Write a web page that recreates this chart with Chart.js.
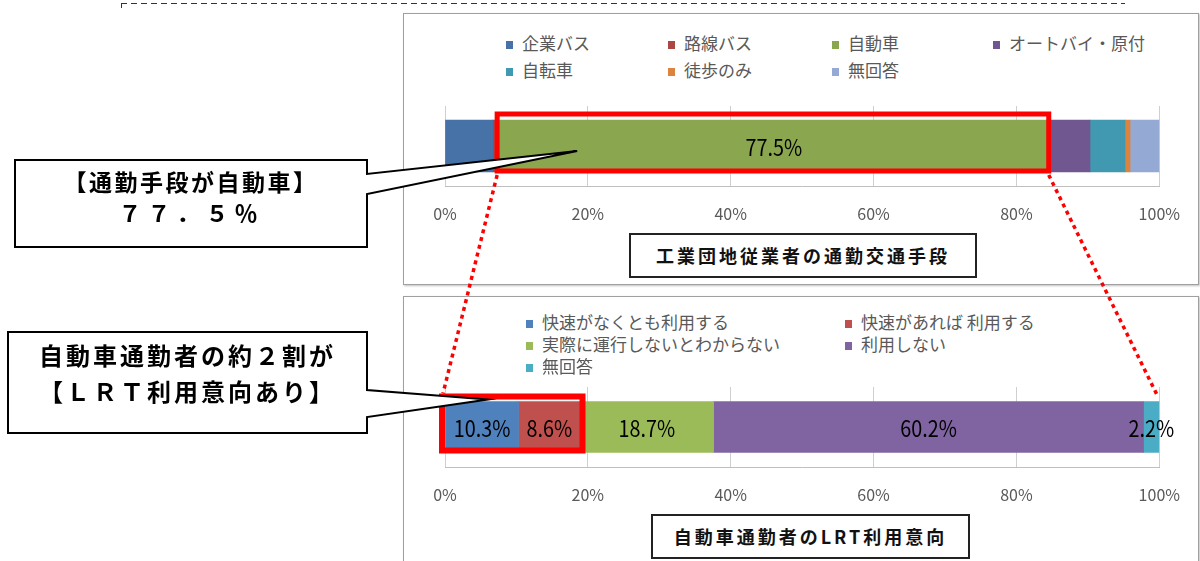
<!DOCTYPE html>
<html lang="ja">
<head>
<meta charset="utf-8">
<script src="https://cdn.jsdelivr.net/npm/chart.js@4.4.1/dist/chart.umd.min.js"></script>
<style>
  body { margin: 0; background: #fff; }
  #page { position: relative; width: 1200px; height: 561px; overflow: hidden; background: #fff;
          font-family: "Noto Sans CJK JP", sans-serif; }
  .frame { position: absolute; border: 1px solid #a0a0a0; box-shadow: 1px 1px 2px rgba(0,0,0,0.25); background: #fff; }
  .chartbox { position: absolute; z-index: 1; }
  .legend-item { position: absolute; font-size: 17px; color: #595959; white-space: nowrap; line-height: 20px; z-index: 2; }
  .legend-item i { display: inline-block; width: 7px; height: 8px; margin-right: 9px; vertical-align: 1px; }
  .title { position: absolute; border: 2px solid #222; background: #fff; font-weight: bold; font-size: 18px;
           letter-spacing: 3px; text-align: center; color: #111; z-index: 2; box-sizing: border-box; }
  #overlay { position: absolute; left: 0; top: 0; z-index: 5; pointer-events: none; }
  .callout { position: absolute; z-index: 6; font-weight: bold; color: #000; text-align: center; white-space: nowrap; }
  #dash { position: absolute; left: 121px; top: 3px; width: 1004px; height: 1px;
          background: repeating-linear-gradient(90deg, #333 0 6px, transparent 6px 10px); }
  #dash::before { content: ""; position: absolute; left: 0; top: 0; width: 1px; height: 5px; background: #333; }
</style>
</head>
<body>
<div id="page">
  <div id="dash"></div>

  <div class="frame" style="left:403px; top:13px; width:794px; height:270px;"></div>
  <div class="frame" style="left:403px; top:296px; width:794px; height:280px;"></div>

  <div class="chartbox" style="left:403px; top:96px;"><canvas id="topChart" width="795" height="130"></canvas></div>
  <div class="chartbox" style="left:403px; top:377px;"><canvas id="lrtChart" width="795" height="130"></canvas></div>

  <div class="title" style="left:629px; top:233px; width:348px; height:45px; line-height:41px;">工業団地従業者の通勤交通手段</div>
  <div class="title" style="left:651px; top:514px; width:319px; height:45px; line-height:41px;">自動車通勤者のLRT利用意向</div>

  <canvas id="overlay" width="1200" height="561"></canvas>

  <div class="callout" style="left:15px; top:166px; width:352px; font-size:23px; letter-spacing:2.5px; line-height:31px;">
    【通勤手段が自動車】<br><span style="letter-spacing:6px;">７７．５％</span>
  </div>
  <div class="callout" style="left:8px; top:337px; width:359px; font-size:24px; letter-spacing:3px; line-height:36px;">
    自動車通勤者の約２割が<br>【ＬＲＴ利用意向あり】
  </div>
</div>

<script>
// 工業団地従業者の通勤交通手段 (%)
const topCats = ['企業バス', '路線バス', '自動車', 'オートバイ・原付', '自転車', '徒歩のみ', '無回答'];
const topValues = [6.7, 0.6, 77.5, 5.5, 4.9, 0.7, 4.1];
const topColors = ['#4672A8', '#AA4643', '#8AA64E', '#70578F', '#4199B1', '#DC843E', '#94A9D3'];
const topLabeled = ['自動車'];

// 自動車通勤者のLRT利用意向 (%)
const lrtCats = ['快速がなくとも利用する', '快速があれば 利用する', '実際に運行しないとわからない', '利用しない', '無回答'];
const lrtValues = [10.3, 8.6, 18.7, 60.2, 2.2];
const lrtColors = ['#4F81BD', '#C0504D', '#9BBB59', '#8064A2', '#4BACC6'];
const lrtLabeled = lrtCats;

const tickStep = 20;

Chart.defaults.font.family = '"Noto Sans CJK JP", sans-serif';

// 帯の中に値を書く
const valueLabels = {
  id: 'valueLabels',
  afterDatasetsDraw(chart, args, opts) {
    const ctx = chart.ctx;
    chart.data.datasets.forEach((ds, i) => {
      if (!opts.show.includes(ds.label)) return;
      const bar = chart.getDatasetMeta(i).data[0];
      ctx.save();
      ctx.font = '23px "Noto Sans CJK JP"';
      ctx.fillStyle = '#000';
      ctx.textAlign = 'center';
      ctx.textBaseline = 'middle';
      ctx.translate((bar.x + bar.base) / 2, bar.y + 1);
      ctx.scale(0.86, 1);
      ctx.fillText(ds.data[0].toFixed(1) + '%', 0, 0);
      ctx.restore();
    });
  }
};

function makeChart(id, cats, values, colors, labeled, thickness) {
  return new Chart(document.getElementById(id), {
    type: 'bar',
    data: {
      labels: [''],
      datasets: cats.map((c, i) => ({
        label: c,
        data: [values[i]],
        backgroundColor: colors[i],
        borderWidth: 0,
        barThickness: thickness
      }))
    },
    options: {
      indexAxis: 'y',
      responsive: false,
      animation: false,
      layout: { padding: { left: 42, right: 38, top: 10, bottom: 0 } },
      plugins: {
        legend: { display: false },
        tooltip: { enabled: false },
        valueLabels: { show: labeled }
      },
      scales: {
        x: {
          stacked: true,
          min: 0,
          max: 100,
          ticks: { stepSize: tickStep, padding: 18, color: '#595959', font: { size: 16 },
                   callback: v => v + '%' },
          grid: { color: '#cfcfcf', drawTicks: false },
          border: { color: '#bfbfbf' },
          afterFit: s => { s.height = 40; }
        },
        y: { stacked: true, display: false }
      }
    },
    plugins: [valueLabels]
  });
}

const topChart = makeChart('topChart', topCats, topValues, topColors, topLabeled, 52);
const lrtChart = makeChart('lrtChart', lrtCats, lrtValues, lrtColors, lrtLabeled, 51);

// 凡例 (HTML)
const page = document.getElementById('page');
function legend(cats, colors, cols, colX, rowY) {
  cats.forEach((c, i) => {
    const el = document.createElement('div');
    el.className = 'legend-item';
    el.style.left = colX[i % cols] + 'px';
    el.style.top = (rowY[Math.floor(i / cols)] - 10) + 'px';
    el.innerHTML = '<i style="background:' + colors[i] + '"></i>' + c;
    page.appendChild(el);
  });
}
legend(topCats, topColors, 4, [506, 668, 832, 993], [43, 70]);
legend(lrtCats, lrtColors, 2, [526, 845], [322, 344, 366]);

// 赤枠・点線・吹き出し
function pagePos(chart) {
  const r = chart.canvas.getBoundingClientRect();
  const p = page.getBoundingClientRect();
  return { x: r.left - p.left, y: r.top - p.top };
}
function segment(chart, from, to) {
  const o = pagePos(chart);
  const a = chart.getDatasetMeta(from).data[0];
  const b = chart.getDatasetMeta(to).data[0];
  return { left: o.x + a.base, right: o.x + b.x, top: o.y + a.y - a.height / 2, bottom: o.y + a.y + a.height / 2, cy: o.y + a.y };
}
function xAt(chart, v) { return pagePos(chart).x + chart.scales.x.getPixelForValue(v); }

const ctx = document.getElementById('overlay').getContext('2d');
const car = segment(topChart, 2, 2);     // 自動車
const lrt = segment(lrtChart, 0, 1);     // 利用意向あり
const lrtAll = segment(lrtChart, 0, 4);

const boxA = { l: car.left, r: car.right - 2, t: car.top - 6, b: car.bottom - 1 };
const boxB = { l: lrt.left - 3.5, r: lrt.right + 2.5, t: lrt.top - 5, b: lrt.bottom - 2 };

ctx.strokeStyle = '#ff0000';
ctx.lineWidth = 5;
ctx.strokeRect(boxA.l, boxA.t, boxA.r - boxA.l, boxA.b - boxA.t);
ctx.lineWidth = 6;
ctx.strokeRect(boxB.l, boxB.t, boxB.r - boxB.l, boxB.b - boxB.t);

ctx.save();
ctx.lineWidth = 3.5;
ctx.setLineDash([4, 4]);
ctx.beginPath();
ctx.moveTo(boxA.l, boxA.b + 4);
ctx.lineTo(boxB.l + 1, boxB.t - 3);
ctx.moveTo(boxA.r, boxA.b + 4);
ctx.lineTo(lrtAll.right - 1, lrtAll.top - 4);
ctx.stroke();
ctx.restore();

function callout(l, t, r, b, y1, y2, tipX, tipY) {
  ctx.beginPath();
  ctx.moveTo(l, t);
  ctx.lineTo(r, t);
  ctx.lineTo(r, y1);
  ctx.lineTo(tipX, tipY);
  ctx.lineTo(r, y2);
  ctx.lineTo(r, b);
  ctx.lineTo(l, b);
  ctx.closePath();
  ctx.fillStyle = '#fff';
  ctx.fill();
  ctx.lineWidth = 2;
  ctx.strokeStyle = '#000';
  ctx.stroke();
}
callout(15, 160, 367, 247, 174, 194, xAt(topChart, 18.5), car.cy + 5);
callout(8, 332, 367, 433, 390, 417, xAt(lrtChart, 6), lrt.top - 2);
</script>
</body>
</html>
